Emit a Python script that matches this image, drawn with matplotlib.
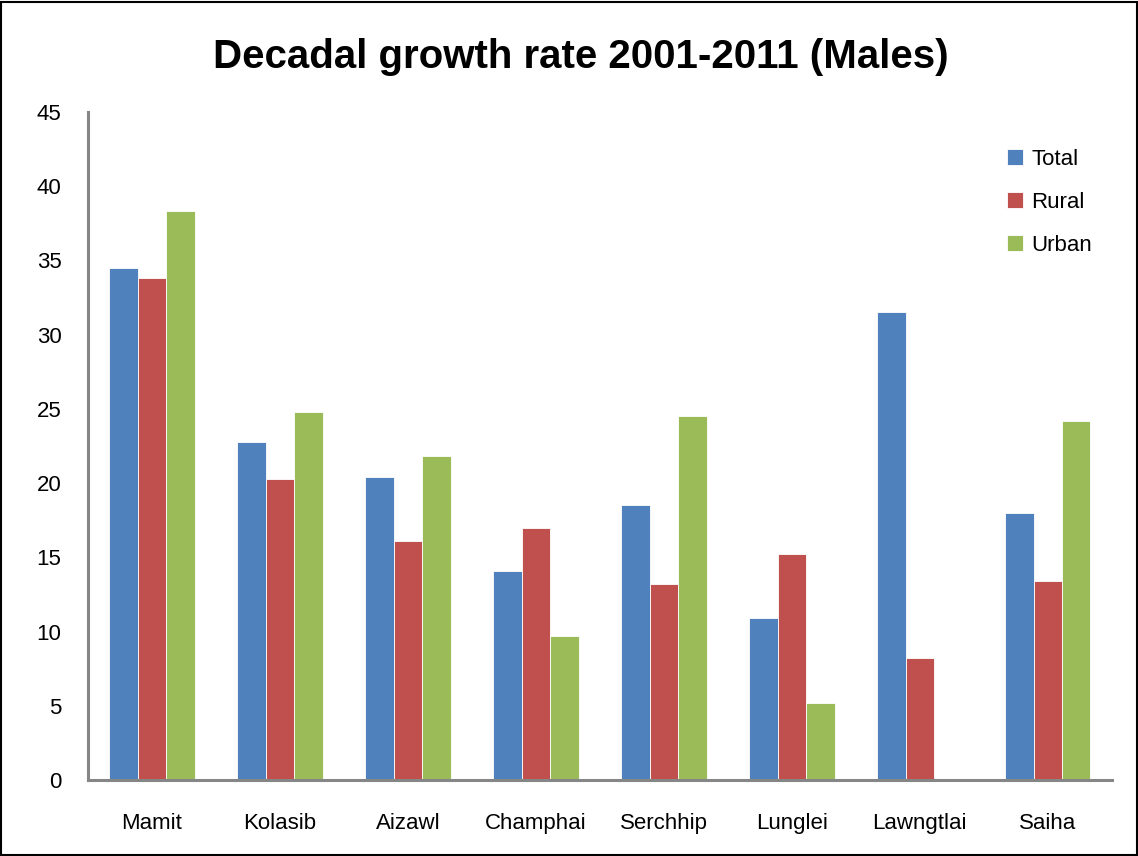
import matplotlib.pyplot as plt
import numpy as np

plt.rcParams["font.family"] = ["Liberation Sans", "DejaVu Sans"]

districts = ["Mamit", "Kolasib", "Aizawl", "Champhai", "Serchhip", "Lunglei", "Lawngtlai", "Saiha"]
total = [34.5, 22.8, 20.4, 14.1, 18.5, 10.9, 31.5, 18.0]
rural = [33.8, 20.3, 16.1, 17.0, 13.2, 15.2, 8.2, 13.4]
urban = [38.3, 24.8, 21.8, 9.7, 24.5, 5.2, 0.0, 24.2]

series = [("Total", total, "#4F81BD"), ("Rural", rural, "#C0504D"), ("Urban", urban, "#9BBB59")]

fig = plt.figure(figsize=(11.38, 8.56), dpi=100)
ax = fig.add_axes([0.0773, 0.0888, 0.8997, 0.7804])

x = np.arange(len(districts))
w = 1 / 4.5
for i, (name, vals, col) in enumerate(series):
    ax.bar(x + (i - 1) * w, vals, w, color=col, edgecolor="white", linewidth=0.6, label=name)

ax.set_xlim(-0.5, len(districts) - 0.5)
ax.set_ylim(0, 45)
ax.set_yticks(np.arange(0, 46, 5))
ax.set_xticks(x)
ax.set_xticklabels(districts)
ax.tick_params(axis="both", length=0, labelsize=16)
ax.tick_params(axis="x", pad=24)
ax.tick_params(axis="y", pad=19)

for s in ["top", "right"]:
    ax.spines[s].set_visible(False)
for s in ["left", "bottom"]:
    ax.spines[s].set_color("#868686")
    ax.spines[s].set_linewidth(2.2)

leg = ax.legend(loc="upper right", bbox_to_anchor=(1.0, 0.975), frameon=False, fontsize=16,
                handlelength=0.75, handleheight=0.75, handletextpad=0.35, labelspacing=1.0)

fig.text(0.51, 0.933, "Decadal growth rate 2001-2011 (Males)", ha="center", va="center",
         fontsize=29, fontweight="bold")

# outer frame
fig.patches.append(plt.Rectangle((0.001, 0.001), 0.998, 0.997, transform=fig.transFigure,
                                 fill=False, edgecolor="black", linewidth=1.5))

fig.savefig("out.png", dpi=100)
